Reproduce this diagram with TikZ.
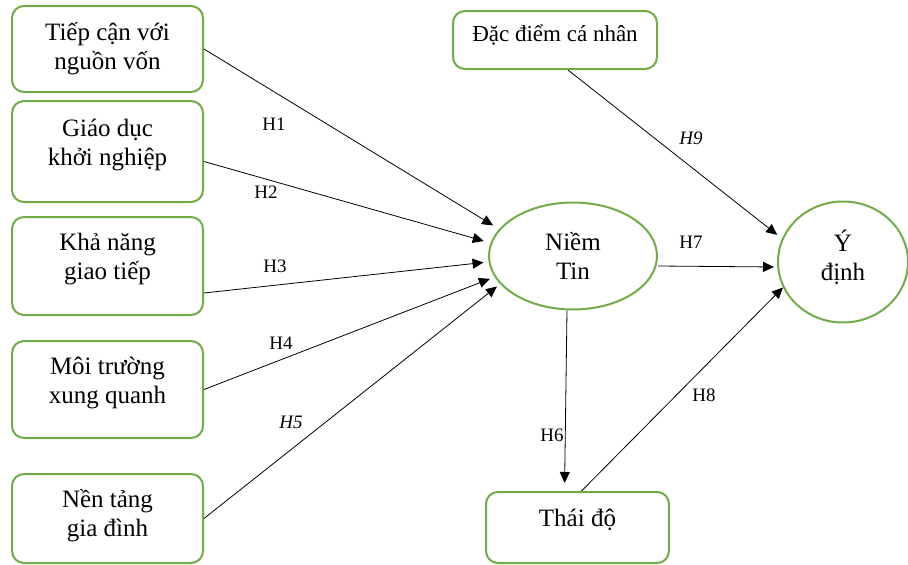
\documentclass[tikz,border=0pt]{standalone}
\usepackage{fontspec}
\setmainfont{Liberation Serif}
\usetikzlibrary{arrows.meta,shapes.geometric}
\definecolor{leaf}{RGB}{112,173,71}

\begin{document}
\begin{tikzpicture}[x=1pt,y=-1pt,
        factor/.style={draw=leaf,line width=2pt,rounded corners=12pt,
            align=center,font=\fontsize{25}{29}\selectfont,
            minimum width=191pt},
        oval/.style={draw=leaf,line width=2pt,ellipse,align=center,
            font=\fontsize{25}{29}\selectfont,inner sep=0pt},
        path/.style={line width=0.8pt,-{Triangle[length=11pt,width=10pt]}},
        hyp/.style={font=\fontsize{19}{21}\selectfont}
    ]
        \useasboundingbox (0,0) rectangle (908,565);
        % left side factors
        \node[factor,minimum height=86pt] (von) at (107.5,49) {Tiếp cận với\\nguồn vốn};
        \node[factor,minimum height=101pt,text depth=19pt] (giaoduc) at (107.5,151.5) {Giáo dục\\khởi nghiệp};
        \node[factor,minimum height=98pt,text depth=19pt] (giaotiep) at (107.5,266) {Khả năng\\giao tiếp};
        \node[factor,minimum height=97pt,text depth=18pt] (moitruong) at (107.5,389.5) {Môi trường\\xung quanh};
        \node[factor,minimum height=89pt,text depth=12pt] (giadinh) at (107.5,518.5) {Nền tảng\\gia đình};
        % the rest
        \node[factor,font=\fontsize{23}{29}\selectfont,minimum width=204pt,
            minimum height=58pt,text depth=13pt] (canhan) at (555,40) {Đặc điểm cá nhân};
        \node[factor,minimum width=183pt,minimum height=71pt,text depth=20pt] (thaido) at (577.5,527.5) {Thái độ};
        \node[oval,minimum width=168pt,minimum height=107pt] (niemtin) at (573,256) {Niềm\\Tin};
        \node[oval,minimum width=130pt,minimum height=121pt,text depth=14pt] (ydinh) at (843,262) {Ý\\định};

        % hypotheses
        \draw[path,shorten >=7pt] (von.east) -- (niemtin.160);
        \draw[path,shorten >=7pt] ([yshift=-10pt]giaoduc.east) -- (niemtin.171);
        \draw[path,shorten >=5pt] ([yshift=-27pt]giaotiep.east) -- (niemtin.184);
        \draw[path,shorten >=5pt] (moitruong.east) -- (niemtin.195);
        \draw[path,shorten >=4pt] (giadinh.east) -- (niemtin.201);
        \draw[path,shorten >=8pt] ([xshift=-6pt]niemtin.south) -- ([xshift=-13pt]thaido.north);
        \draw[path,shorten >=3pt] ([yshift=-10pt]niemtin.east) -- ([yshift=-5pt]ydinh.west);
        \draw[path] ([xshift=4pt]thaido.north) -- (ydinh.203);
        \draw[path,shorten >=6pt] ([xshift=13pt]canhan.south) -- (ydinh.159);

        \node[hyp] (h1) at (274,124) {H1};
        \node[hyp] (h2) at (266,192) {H2};
        \node[hyp] (h3) at (275,266) {H3};
        \node[hyp] (h4) at (281,343) {H4};
        \node[hyp] (h5) at (291,422) {\itshape H5};
        \node[hyp] (h6) at (552,435) {H6};
        \node[hyp] (h7) at (691,242) {H7};
        \node[hyp] (h8) at (704,395) {H8};
        \node[hyp] (h9) at (691,138) {\itshape H9};
\end{tikzpicture}
\end{document}
